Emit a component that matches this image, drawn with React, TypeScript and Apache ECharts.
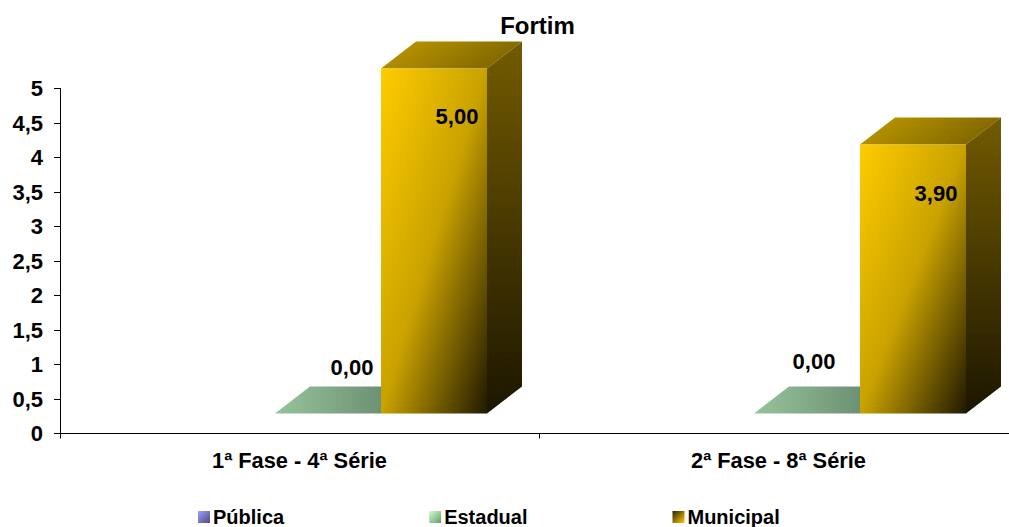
import React, { useEffect, useRef } from "react";
import * as echarts from "echarts";

const categories = ["1ª Fase - 4ª Série", "2ª Fase - 8ª Série"];
const seriesNames = ["Pública", "Estadual", "Municipal"];
const publica: (number | null)[] = [null, null];
const estadual = [0, 0];
const municipal = [5, 3.9];
const yTicks = [0, 0.5, 1, 1.5, 2, 2.5, 3, 3.5, 4, 4.5, 5];

const FONT = "'Liberation Sans', Arial, sans-serif";
const BAR_W = 106;
const DEPTH_X = 35;
const DEPTH_Y = 27;
const FLOOR = 20;
const GROUP_SHIFT = 28.5;

// label centre relative to the bar's front-left corner at its top, per category
const estadualLabel = [[77, -46], [60, -52.5]];
const municipalLabel = [[76, 48], [76, 49]];

const diag = (stops: [number, string][], x2 = 1, y2 = 1) => ({
  type: "linear", x: 0, y: 0, x2, y2,
  colorStops: stops.map(([offset, color]) => ({ offset, color })),
});

const palettes: Record<string, any> = {
  Estadual: {
    front: diag([[0, "#99cc99"], [1, "#5a7a60"]], 1, 0),
    top: diag([[0, "#97c49a"], [1, "#5f8068"]], 1, 0),
    side: "#3f5a45",
    labels: estadualLabel,
  },
  Municipal: {
    front: diag([[0, "#ffcc00"], [0.5, "#c9a200"], [1, "#201900"]]),
    top: diag([[0, "#c29c00"], [1, "#806700"]], 1, 0.3),
    side: diag([[0, "#735b00"], [1, "#1c1600"]], 0, 1),
    labels: municipalLabel,
  },
};

const makeRender = (name: string, seriesIndex: number) => (params: any, api: any) => {
  const v = api.value(1);
  if (v === null || v === undefined || Number.isNaN(v)) return null;
  const p = palettes[name];
  const cat = api.value(0);
  const [cx, top0] = api.coord([cat, v]);
  const left = cx + GROUP_SHIFT + (seriesIndex - 1) * BAR_W - BAR_W / 2;
  const right = left + BAR_W;
  const top = top0 - FLOOR;
  const bottom = api.coord([cat, 0])[1] - FLOOR;
  const children: any[] = [
    {
      type: "polygon",
      shape: { points: [[left, top], [left + DEPTH_X, top - DEPTH_Y], [right + DEPTH_X, top - DEPTH_Y], [right, top]] },
      style: { fill: p.top },
    },
    {
      type: "polygon",
      shape: { points: [[right, top], [right + DEPTH_X, top - DEPTH_Y], [right + DEPTH_X, bottom - DEPTH_Y], [right, bottom]] },
      style: { fill: p.side },
    },
  ];
  if (bottom > top) {
    children.push({
      type: "polygon",
      shape: { points: [[left, top], [right, top], [right, bottom], [left, bottom]] },
      style: { fill: p.front },
    });
  }
  const [dx, dy] = p.labels[cat];
  children.push({
    type: "text",
    x: left + dx,
    y: top + dy,
    z2: 100,
    style: {
      text: v.toFixed(2).replace(".", ","),
      fontFamily: FONT,
      fontWeight: "bold",
      fontSize: 22,
      fill: "#000",
      align: "center",
      verticalAlign: "middle",
    },
  });
  return { type: "group", children };
};

const swatches = [
  diag([[0, "#a0a0ff"], [1, "#4c4c80"]]),
  diag([[0, "#ccffcc"], [1, "#6b9a6b"]]),
  diag([[0, "#2a2200"], [1, "#ffcc00"]]),
];

export default function App() {
  const ref = useRef<HTMLDivElement>(null);
  useEffect(() => {
    const chart = echarts.init(ref.current!, undefined, { renderer: "svg" });
    const toData = (arr: (number | null)[]) => arr.map((v, i) => [i, v]);
    const labelStyle = { color: "#000", fontFamily: FONT, fontWeight: "bold" as const, fontSize: 22 };
    chart.setOption({
      animation: false,
      backgroundColor: "#fff",
      title: {
        text: "Fortim",
        left: 532.5,
        textAlign: "center",
        top: 8,
        textStyle: { color: "#000", fontFamily: FONT, fontWeight: "bold", fontSize: 24 },
      },
      legend: {
        left: 193,
        top: 502,
        itemWidth: 12,
        itemHeight: 12,
        itemGap: 145,
        icon: "rect",
        textStyle: { ...labelStyle, fontSize: 20, padding: [0, 0, 0, -2] },
        data: seriesNames.map((name, i) => ({ name, itemStyle: { color: swatches[i] } })),
      },
      grid: { left: 60, top: 88.5, width: 958, height: 345 },
      xAxis: {
        type: "category",
        data: categories,
        axisLine: { show: true, lineStyle: { color: "#000", width: 1 } },
        axisTick: { show: true, length: 5, alignWithLabel: false, lineStyle: { color: "#000" } },
        axisLabel: { ...labelStyle, fontSize: 21.8, margin: 16 },
      },
      yAxis: {
        type: "value",
        min: 0,
        max: 5,
        interval: 0.5,
        splitLine: { show: false },
        axisLine: { show: true, lineStyle: { color: "#000", width: 1 } },
        axisTick: { show: true, length: 6, lineStyle: { color: "#000" } },
        axisLabel: {
          ...labelStyle,
          margin: 17,
          formatter: (v: number) => (yTicks.includes(v) ? String(v).replace(".", ",") : ""),
        },
      },
      series: [publica, estadual, municipal].map((arr, i) => ({
        type: "custom",
        name: seriesNames[i],
        coordinateSystem: "cartesian2d",
        encode: { x: 0, y: 1 },
        clip: false,
        itemStyle: { color: swatches[i] },
        renderItem: makeRender(seriesNames[i], i),
        data: toData(arr),
      })),
    });
    return () => chart.dispose();
  }, []);
  return (
    <div style={{ position: "fixed", left: 0, top: 0, width: 1009, height: 527, overflow: "hidden" }}>
      <div ref={ref} style={{ width: 1030, height: 527 }} />
    </div>
  );
}
